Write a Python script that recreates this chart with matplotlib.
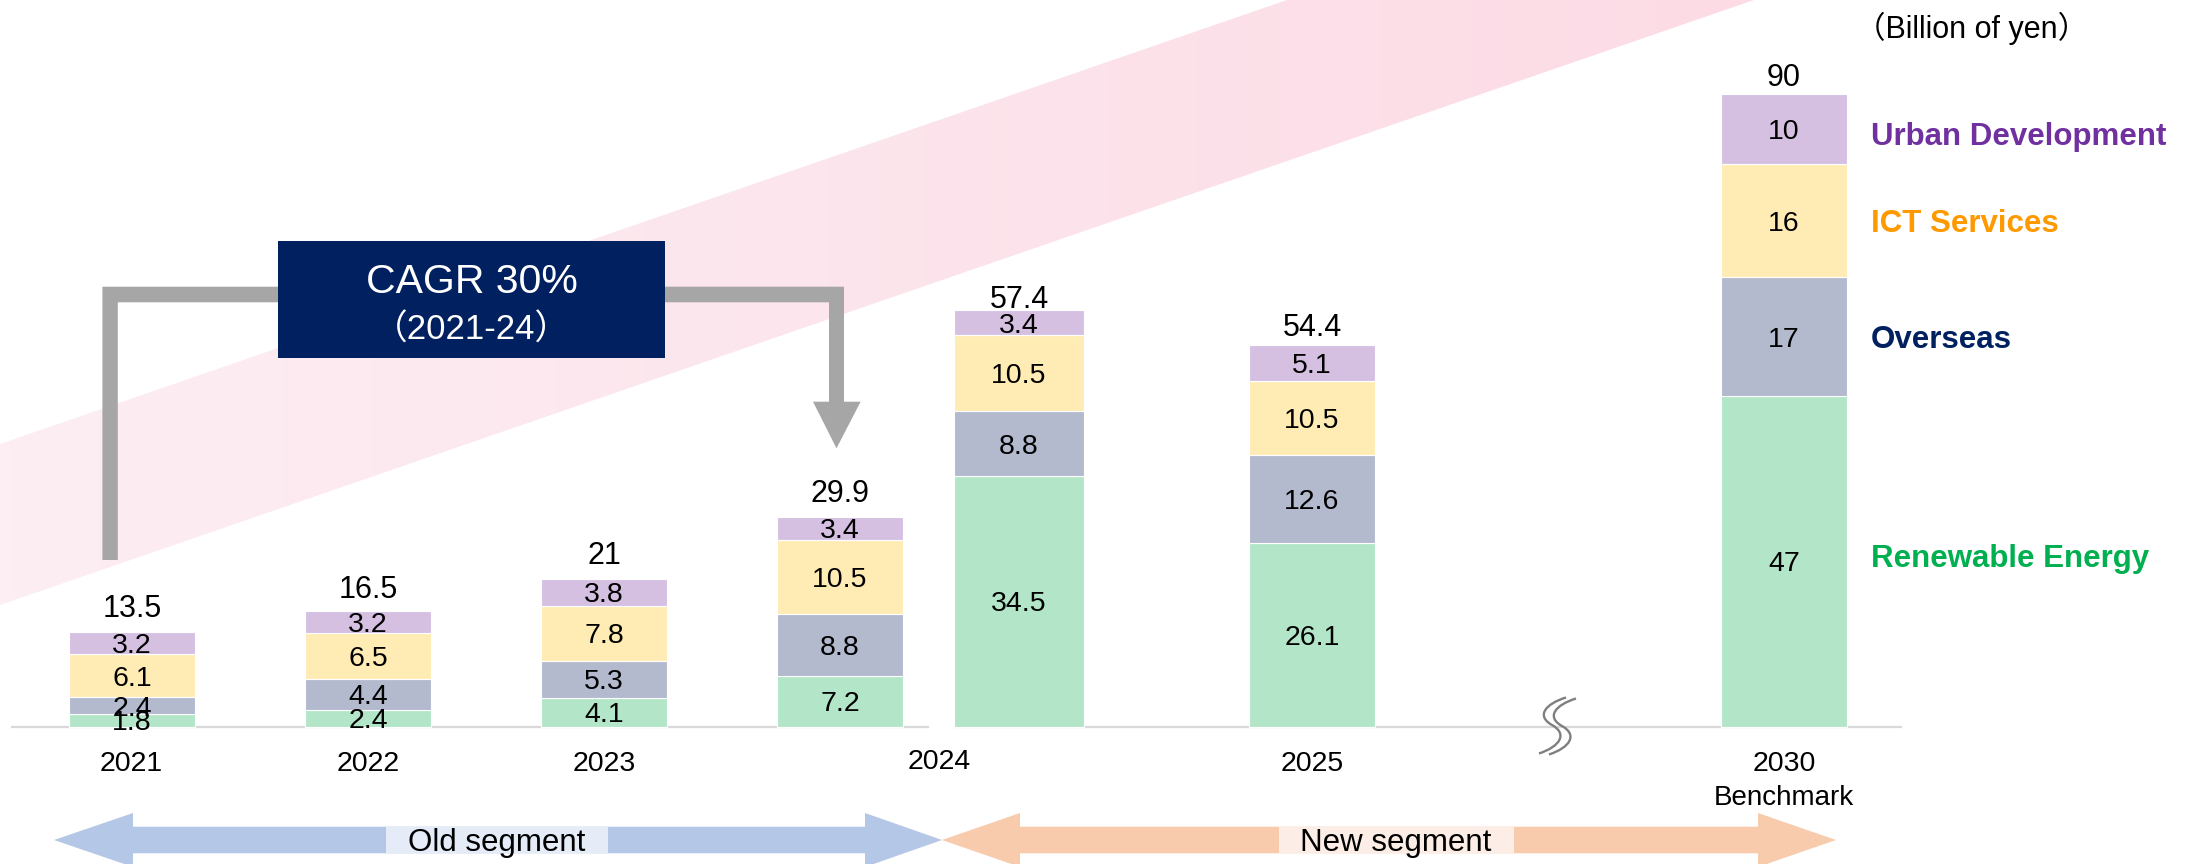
import numpy as np
import matplotlib
matplotlib.use("Agg")
import matplotlib.pyplot as plt
from matplotlib.patches import Polygon, Rectangle, PathPatch
from matplotlib.path import Path
from matplotlib.colors import LinearSegmentedColormap

plt.rcParams['font.family'] = ['Liberation Sans', 'Noto Sans CJK JP', 'DejaVu Sans']

# ---- data (billion yen) ----
years = ["2021", "2022", "2023", "2024", "2024", "2025", "2030"]
renewable = [1.8, 2.4, 4.1, 7.2, 34.5, 26.1, 47]
overseas = [2.4, 4.4, 5.3, 8.8, 8.8, 12.6, 17]
ict = [6.1, 6.5, 7.8, 10.5, 10.5, 10.5, 16]
urban = [3.2, 3.2, 3.8, 3.4, 3.4, 5.1, 10]
totals = [13.5, 16.5, 21, 29.9, 57.4, 54.4, 90]
tick_labels = ["2021", "2022", "2023", "2024", "2025", "2030"]
segments = ["Renewable Energy", "Overseas", "ICT Services", "Urban Development"]
seg_colors = ["#B3E6C9", "#B3BACE", "#FFEBB4", "#D5C0E2"]
name_colors = ["#00B050", "#002060", "#FF9900", "#7030A0"]

# ---- layout, in pixels of the 2202x864 canvas ----
W, H = 2202, 864
BASE = 726.7
bar_x = [132, 368, 604, 840, 1019, 1312, 1784]
bar_w = [126, 126, 126, 126, 130, 126, 126]
px_per_unit = [7.03, 7.03, 7.03, 7.03, 7.28, 7.03, 7.03]
total_gap = [26, 24, 27, 26, 14, 20, 20]
tick_x = [131, 368, 604, 939, 1312, 1784]
tick_y = [761, 761, 761, 759, 761, 761]
name_y = [555, 337, 220, 133]

fig = plt.figure(figsize=(W / 100, H / 100), dpi=100, facecolor="white")
bg = fig.add_axes([0, 0, 1, 1], zorder=0)
ov = fig.add_axes([0, 0, 1, 1], zorder=3)

# pink diagonal band
band = Polygon([(0, 444), (1287, 0), (1754, 0), (0, 605)], closed=True,
               facecolor="none", edgecolor="none")
bg.add_patch(band)
cmap = LinearSegmentedColormap.from_list("band", ["#FCEEF3", "#FCDBE5"])
im = bg.imshow(np.linspace(0, 1, 256)[None, :], extent=(0, 1754, 605, 0),
               cmap=cmap, aspect="auto", interpolation="bilinear")
im.set_clip_path(band)

# baseline
for x0, x1 in [(11, 929), (954, 1902)]:
    bg.plot([x0, x1], [BASE, BASE], color="#D9D9D9", lw=1.6, solid_capstyle="butt")

for a in (bg, ov):
    a.set_xlim(0, W)
    a.set_ylim(H, 0)
    a.axis("off")

bar_axes = {}
def value_ax(scale):
    if scale not in bar_axes:
        a = fig.add_axes([0, 0, 1, 1], zorder=1)
        a.set_xlim(0, W)
        a.set_ylim(-(H - BASE) / scale, BASE / scale)
        a.axis("off")
        bar_axes[scale] = a
    return bar_axes[scale]

stack = np.array([renewable, overseas, ict, urban])
for i in range(len(years)):
    a = value_ax(px_per_unit[i])
    bottom = 0.0
    for k in range(4):
        v = stack[k, i]
        a.bar(bar_x[i], v, width=bar_w[i], bottom=bottom, color=seg_colors[k],
              edgecolor="white", linewidth=0.8)
        a.text(bar_x[i], bottom + v / 2, f"{v:g}", ha="center",
               va="center_baseline", fontsize=20.5, color="black")
        bottom += v
    a.annotate(f"{totals[i]:g}", (bar_x[i], bottom), xytext=(0, total_gap[i] * 0.72),
               textcoords="offset points", ha="center", va="center_baseline",
               fontsize=22, color="black")

# year labels
for lab, x, y in zip(tick_labels, tick_x, tick_y):
    ov.text(x, y, lab, ha="center", va="center_baseline", fontsize=20.5)
ov.text(1784, 795, "Benchmark", ha="center", va="center_baseline", fontsize=20)

# segment names next to the 2030 bar
for name, c, y in zip(segments, name_colors, name_y):
    ov.text(1871, y, name, color=c, fontsize=22.5, fontweight="bold",
            ha="left", va="center_baseline")
ov.text(1972, 25, "（Billion of yen）", ha="center", va="center_baseline", fontsize=22)

# CAGR bracket + box
bracket = [(102.4, 560), (102.4, 286.7), (844, 286.7), (844, 401.7), (860.6, 401.7),
           (836.5, 448.3), (813, 401.7), (829, 401.7), (829, 302.3), (117.8, 302.3),
           (117.8, 560)]
ov.add_patch(Polygon(bracket, closed=True, facecolor="#A6A6A6", edgecolor="none"))
ov.add_patch(Rectangle((278, 241), 387, 117, facecolor="#002060", edgecolor="none"))
ov.text(471.5, 278, "CAGR 30%", color="white", fontsize=29.5, ha="center", va="center_baseline")
ov.text(471.5, 327, "（2021-24）", color="white", fontsize=25, ha="center", va="center_baseline")

# segment arrows at the bottom
def double_arrow(x0, x1, hb0, hb1, yc, color):
    pts = [(x0, yc), (hb0, yc - 27), (hb0, yc - 13.3), (hb1, yc - 13.3), (hb1, yc - 27),
           (x1, yc), (hb1, yc + 27), (hb1, yc + 13.3), (hb0, yc + 13.3), (hb0, yc + 27)]
    ov.add_patch(Polygon(pts, closed=True, facecolor=color, edgecolor="none"))

double_arrow(54, 942, 133, 865, 840, "#B4C7E7")
double_arrow(942, 1836, 1020, 1758, 840, "#F8CBAD")
ov.add_patch(Rectangle((386, 826.7), 221.5, 26.6, facecolor="#E6ECF7", edgecolor="none"))
ov.add_patch(Rectangle((1279, 826.7), 235, 26.6, facecolor="#FCEEE6", edgecolor="none"))
ov.text(497, 840, "Old segment", fontsize=22.5, ha="center", va="center_baseline")
ov.text(1396, 840, "New segment", fontsize=22.5, ha="center", va="center_baseline")

# axis break mark
s_curve = [(1566, 697.5), (1545, 704), (1536, 716), (1552, 725),
           (1568, 734), (1560, 746.5), (1539, 753.5)]
codes = [Path.MOVETO] + [Path.CURVE4] * 6
for dx, dy in [(0, 0), (10, 1)]:
    p = Path([(x + dx, y + dy) for x, y in s_curve], codes)
    ov.add_patch(PathPatch(p, facecolor="none", edgecolor="#7F7F7F", lw=1.7))

fig.savefig("out.png", dpi=100, facecolor="white")
